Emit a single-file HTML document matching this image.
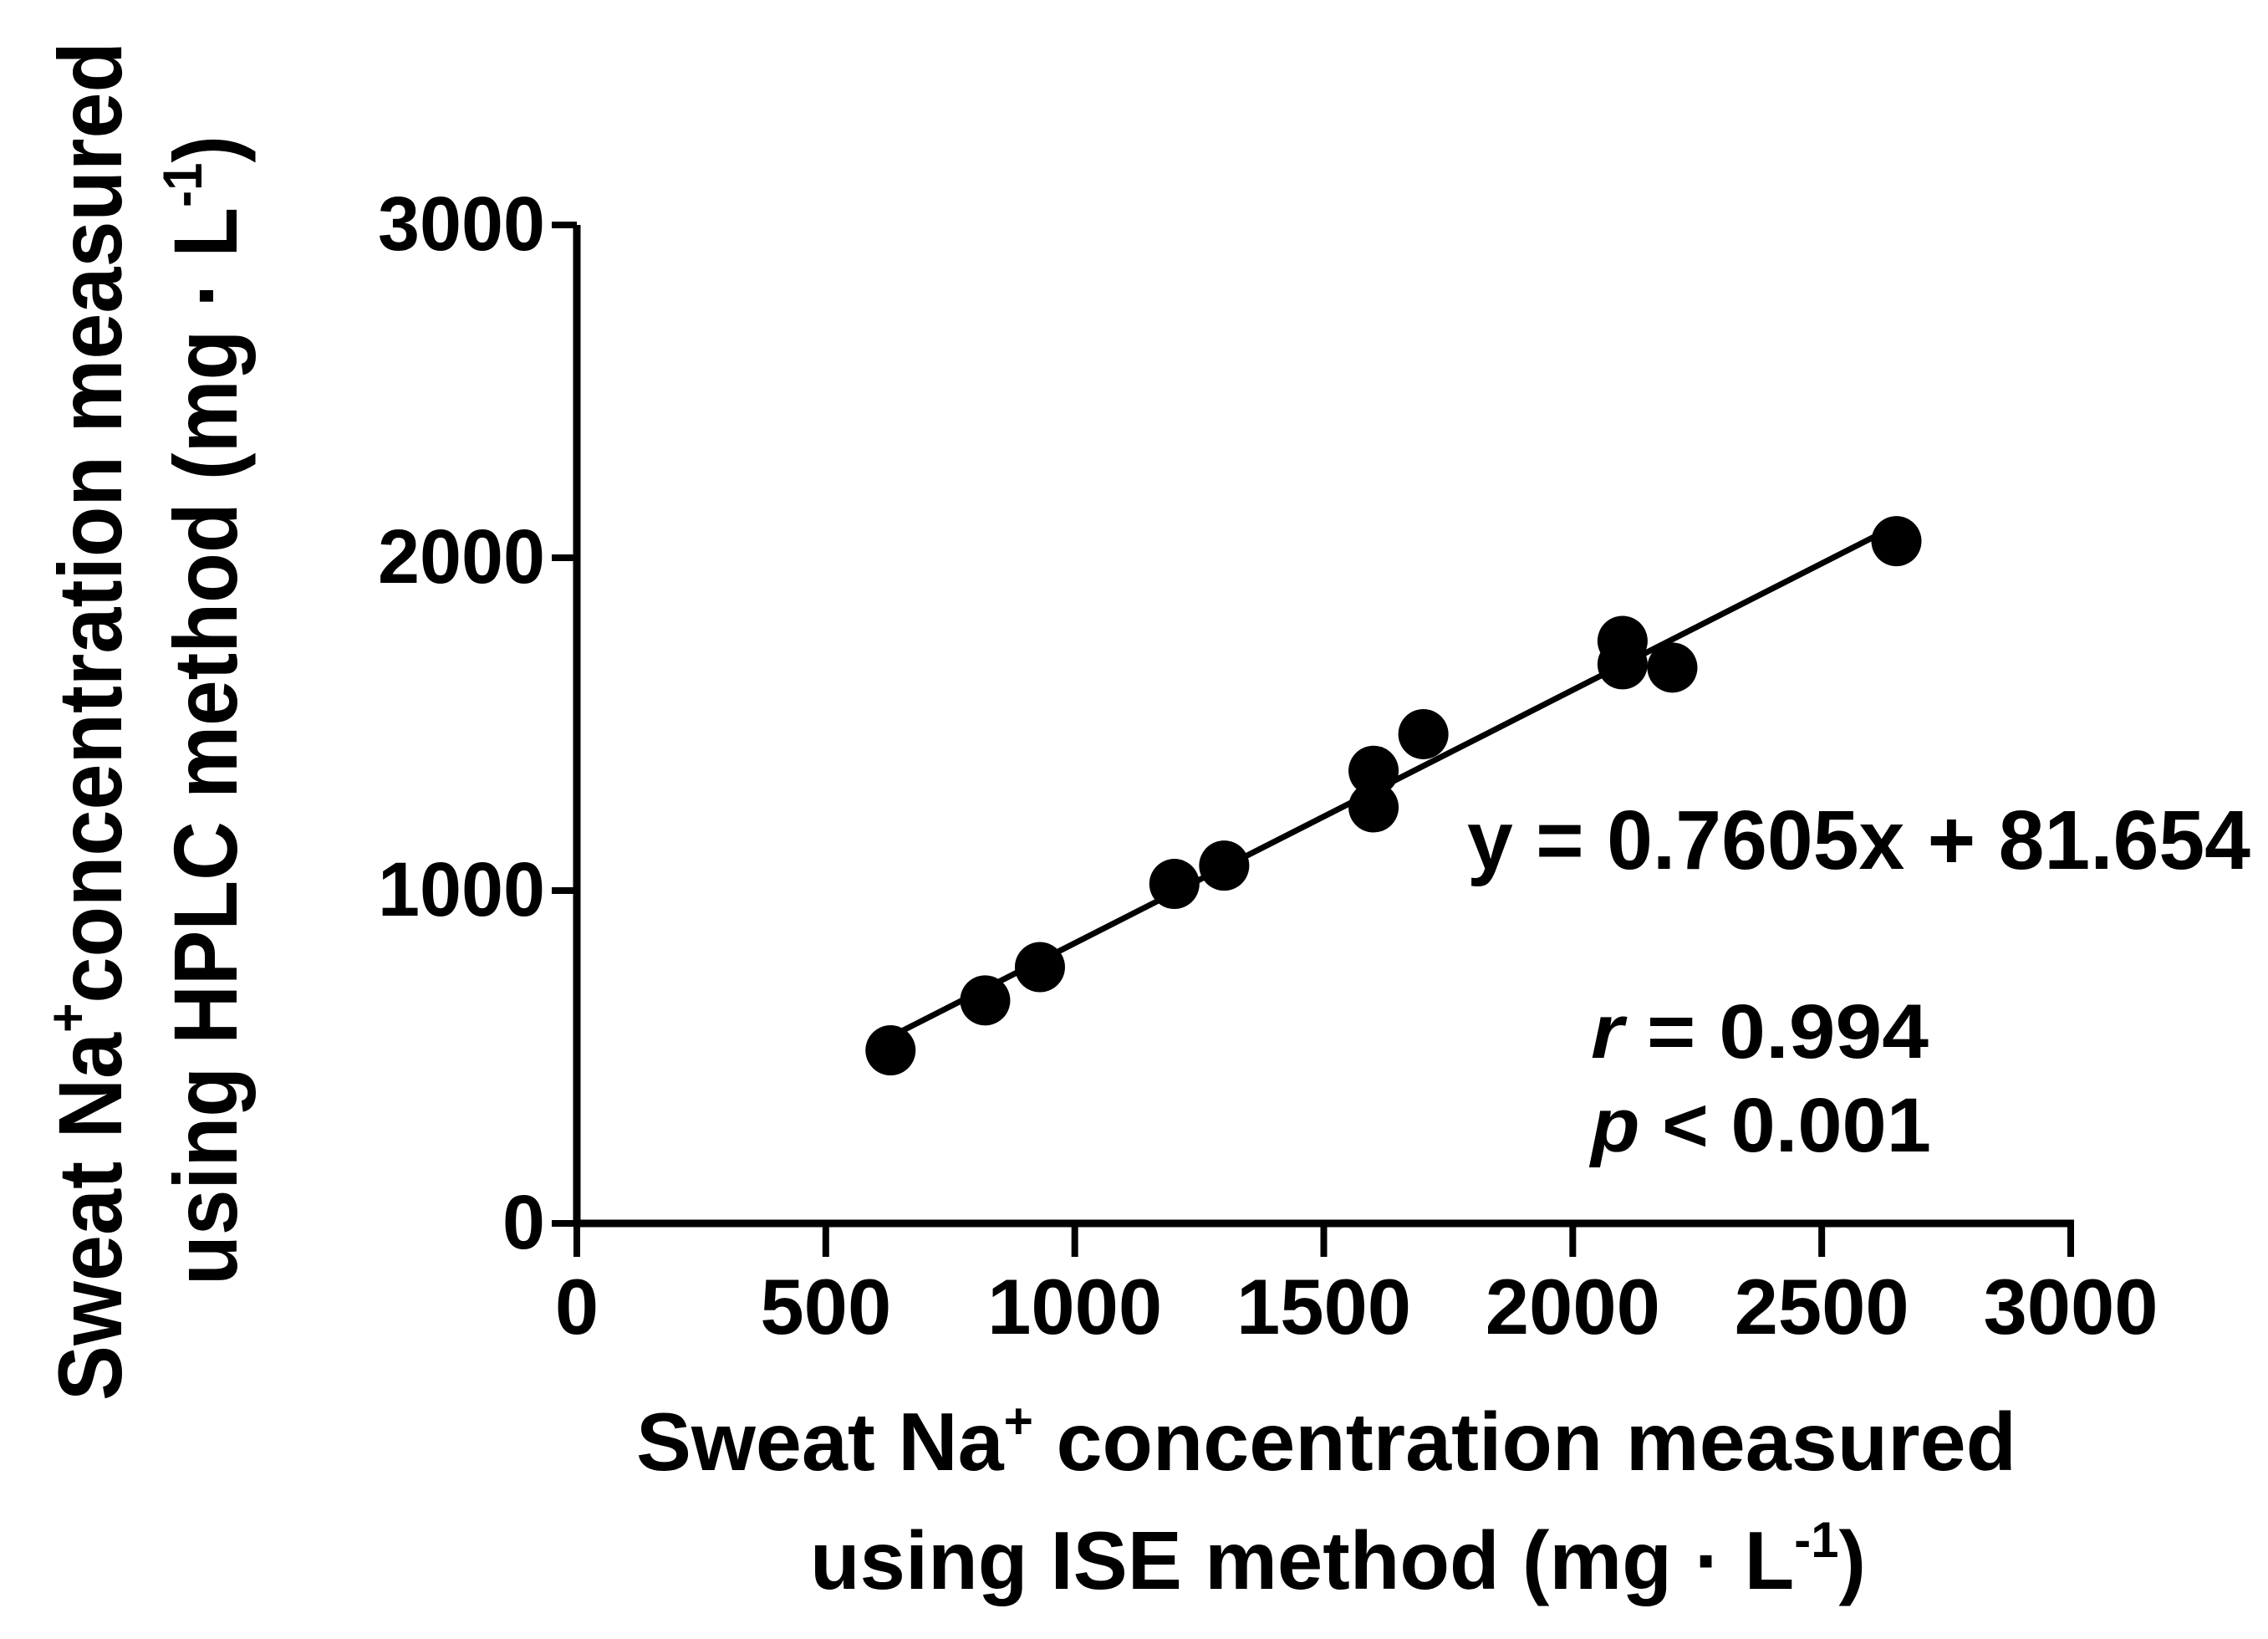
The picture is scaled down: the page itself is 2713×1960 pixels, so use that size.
<!DOCTYPE html>
<html><head><meta charset="utf-8"><style>
html,body{margin:0;padding:0;background:#fff;}
svg{display:block;font-family:"Liberation Sans",Arial,sans-serif;font-weight:bold;}
</style></head><body>
<svg id="chart" width="2713" height="1960" viewBox="0 0 2713 1960">
<g id="axes"></g>
<g id="marks"></g>
<text x="1755" y="1039" font-size="100" textLength="937" lengthAdjust="spacingAndGlyphs">y = 0.7605x + 81.654</text>
<text x="1903" y="1265" font-size="92" textLength="404" lengthAdjust="spacingAndGlyphs"><tspan font-style="italic">r</tspan> = 0.994</text>
<text x="1903" y="1377" font-size="92" textLength="407" lengthAdjust="spacingAndGlyphs"><tspan font-style="italic">p</tspan> &lt; 0.001</text>
<text x="761" y="1758" font-size="98" textLength="1651" lengthAdjust="spacingAndGlyphs">Sweat Na<tspan dy="-38" font-size="60">+</tspan><tspan dy="38"> concentration measured</tspan></text>
<text x="969" y="1900" font-size="98" textLength="1263" lengthAdjust="spacingAndGlyphs">using ISE method (mg · L<tspan dy="-38" font-size="60">-1</tspan><tspan dy="38">)</tspan></text>
<text transform="translate(145,1675) rotate(-90)" font-size="108" textLength="1625" lengthAdjust="spacingAndGlyphs">Sweat Na<tspan dy="-42" font-size="66">+</tspan><tspan dy="42">concentration measured</tspan></text>
<text transform="translate(283,1537) rotate(-90)" font-size="108" textLength="1375" lengthAdjust="spacingAndGlyphs">using HPLC method (mg · L<tspan dy="-42" font-size="66">-1</tspan><tspan dy="42">)</tspan></text>
</svg>
<script>
const xValues = [630, 820, 930, 1200, 1300, 1600, 1600, 1700, 2100, 2100, 2200, 2650];
const yValues = [520, 670, 770, 1020, 1075, 1360, 1250, 1470, 1750, 1680, 1670, 2050];
const xTicks = [0, 500, 1000, 1500, 2000, 2500, 3000];
const yTicks = [0, 1000, 2000, 3000];
const slope = 0.7605;
const intercept = 81.654;

const NS = 'http://www.w3.org/2000/svg';
const X0 = 690, X1 = 2477, Y0 = 1463, Y1 = 269;
function sx(v){ return X0 + (v / 3000) * (X1 - X0); }
function sy(v){ return Y0 - (v / 3000) * (Y0 - Y1); }
function mk(tag, attrs, parent){
  const e = document.createElementNS(NS, tag);
  for (const k in attrs) e.setAttribute(k, attrs[k]);
  parent.appendChild(e);
  return e;
}
const axes = document.getElementById('axes');
const marks = document.getElementById('marks');

let el = mk('line', {x1: X0, y1: Y1, x2: X0, y2: Y0 + 4, stroke: '#000', 'stroke-width': 9}, axes);


el = mk('line', {x1: X0 - 4, y1: Y0, x2: X1 + 4, y2: Y0, stroke: '#000', 'stroke-width': 9}, axes);



yTicks.forEach(function(t){
  const y = sy(t);
  const tk = mk('line', {x1: X0 - 30, y1: y, x2: X0, y2: y, stroke: '#000', 'stroke-width': 8}, axes);
  
  
  const lb = mk('text', {x: 652, y: y + 30, 'font-size': 92, 'text-anchor': 'end'}, axes);
  lb.textContent = String(t);
  if (String(t).length === 4) { lb.setAttribute('textLength', 200); lb.setAttribute('lengthAdjust', 'spacingAndGlyphs'); }
  
  
});
xTicks.forEach(function(t){
  const x = sx(t);
  const tk = mk('line', {x1: x, y1: Y0, x2: x, y2: Y0 + 40, stroke: '#000', 'stroke-width': 8}, axes);
  
  
  const lb = mk('text', {x: x, y: 1595, 'font-size': 94, 'text-anchor': 'middle'}, axes);
  lb.textContent = String(t);
  
  
});

const xmin = Math.min.apply(null, xValues), xmax = Math.max.apply(null, xValues);
el = mk('line', {x1: sx(xmin), y1: sy(slope * xmin + intercept), x2: sx(xmax), y2: sy(slope * xmax + intercept), stroke: '#000', 'stroke-width': 7}, marks);



xValues.forEach(function(xv, i){
  const c = mk('circle', {cx: sx(xv), cy: sy(yValues[i]), r: 30, fill: '#000'}, marks);
  
  
});
</script>
</body></html>
